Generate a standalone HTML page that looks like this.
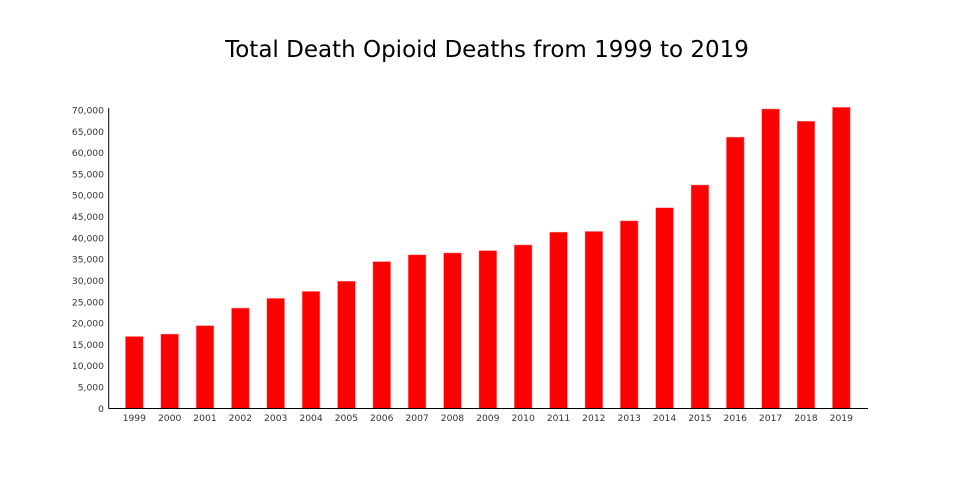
<!DOCTYPE html>
<html><head><meta charset="utf-8"><style>
html,body{margin:0;padding:0;background:#fff;width:960px;height:500px;overflow:hidden}
text{font-family:"DejaVu Sans","Liberation Sans",sans-serif;fill:#333}
</style></head><body>
<svg id="chart" width="960" height="500" xmlns="http://www.w3.org/2000/svg">
<text x="487" y="57" text-anchor="middle" style="font-size:23px;fill:#000">Total Death Opioid Deaths from 1999 to 2019</text>
<g id="yticks"></g><g id="bars"></g><g id="xticks"></g>
<line x1="108.7" y1="108" x2="108.7" y2="408.5" stroke="#000" stroke-width="1"/>
<line x1="108.7" y1="408.5" x2="868" y2="408.5" stroke="#000" stroke-width="1"/>
</svg>
<script>
const years=["1999","2000","2001","2002","2003","2004","2005","2006","2007","2008","2009","2010","2011","2012","2013","2014","2015","2016","2017","2018","2019"];
const deaths=[16849,17415,19394,23518,25785,27424,29813,34425,36010,36450,37004,38329,41340,41502,43982,47055,52404,63632,70237,67367,70630];
const yTicks=[0,5000,10000,15000,20000,25000,30000,35000,40000,45000,50000,55000,60000,65000,70000];
const NS="http://www.w3.org/2000/svg";
const y0=408.3,yTop=110,yMax=70000;
function yScale(v){return y0-(v/yMax)*(y0-yTop);}
function xScale(i){return 134.3+i*35.35;}
function mk(t,a){const e=document.createElementNS(NS,t);for(const k in a)e.setAttribute(k,a[k]);return e;}
const yt=document.getElementById('yticks');
yTicks.forEach(v=>{const t=mk('text',{x:104,y:yScale(v)+3.5,'text-anchor':'end','font-size':'9.2'});


t.textContent=v.toLocaleString('en-US');yt.appendChild(t);});
const bg=document.getElementById('bars'),xt=document.getElementById('xticks');
deaths.forEach((v,i)=>{const cx=xScale(i),w=17.7;
const r=mk('rect',{x:cx-w/2,y:yScale(v),width:w,height:y0-yScale(v),fill:'#ff0000',stroke:'#ff8a8a','stroke-width':'0.5'});


bg.appendChild(r);
const t=mk('text',{x:cx,y:421,'text-anchor':'middle','font-size':'9.2'});


t.textContent=years[i];xt.appendChild(t);});
</script>
</body></html>
